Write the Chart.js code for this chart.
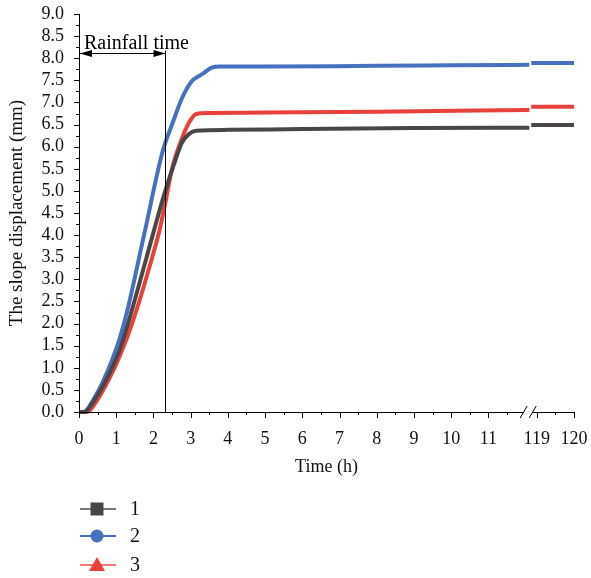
<!DOCTYPE html>
<html>
<head>
<meta charset="utf-8">
<script src="https://cdn.jsdelivr.net/npm/chart.js@4.4.0/dist/chart.umd.min.js"></script>
<style>
  html, body { margin: 0; padding: 0; background: #fff; }
  #wrap { width: 591px; height: 578px; }
</style>
</head>
<body>
<div id="wrap"><canvas id="slopeChart" width="591" height="578"></canvas></div>
<script>
// ===== DATA (time in hours, displacement in mm) =====
const seriesNames = ["1", "2", "3"];

const time1 = [0, 0.15, 0.4, 0.64, 0.9, 1.1, 1.42, 1.8, 2.3, 2.6, 2.77, 2.96, 3.15, 4, 6, 9, 12.1, 118.85, 120];
const disp1 = [0, 0, 0.25, 0.58, 1.02, 1.42, 2.3, 3.45, 4.95, 5.72, 6.1, 6.29, 6.36, 6.38, 6.4, 6.42, 6.43, 6.49, 6.49];

const time2 = [0, 0.12, 0.4, 0.64, 0.9, 1.1, 1.3, 1.76, 2.25, 2.5, 2.77, 3.04, 3.23, 3.36, 3.55, 3.8, 5, 8, 10, 12.1, 118.85, 120];
const disp2 = [0, 0, 0.3, 0.68, 1.2, 1.68, 2.3, 4.05, 5.9, 6.5, 7.1, 7.49, 7.6, 7.67, 7.78, 7.81, 7.81, 7.83, 7.84, 7.85, 7.89, 7.89];

const time3 = [0, 0.22, 0.45, 0.64, 0.9, 1.1, 1.3, 1.6, 1.9, 2.16, 2.3, 2.5, 2.75, 2.96, 3.15, 3.5, 5, 8, 12.1, 118.85, 120];
const disp3 = [0, 0, 0.22, 0.48, 0.9, 1.28, 1.7, 2.45, 3.3, 4.1, 4.65, 5.5, 6.15, 6.55, 6.74, 6.76, 6.77, 6.79, 6.83, 6.9, 6.9];

// x tick labels (hours) on the broken axis
const xTickHours = [0, 1, 2, 3, 4, 5, 6, 7, 8, 9, 10, 11, 119, 120];
const RAIN_END = 2.3;      // end of rainfall (h)
const BREAK_AT = 12.15;    // where the axis is cut (axis units)
const SHIFT = 106.7;       // hours removed by the axis break

// ===== STYLE =====
const FONT = "'Liberation Serif', 'Times New Roman', serif";
const colors = ["#4a4646", "#4670c0", "#e8413b"];
const legendLineColors = ["#7a7a7a", "#4670c0", "#f07a76"];

// map real hours onto the broken axis
function toAxis(h) { return h > 100 ? h - SHIFT : h; }

function buildData(times, disps) {
    const pts = [];
    for (let i = 0; i < times.length; i++) {
        if (times[i] > 100 && (i === 0 || times[i - 1] < 100)) {
            pts.push({ x: BREAK_AT, y: null }); // gap across the break
        }
        pts.push({ x: toAxis(times[i]), y: disps[i] });
    }
    return pts;
}

const allTimes = [time1, time2, time3];
const allDisps = [disp1, disp2, disp3];

const datasets = seriesNames.map((name, i) => ({
    label: name,
    data: buildData(allTimes[i], allDisps[i]),
    borderColor: colors[i],
    borderWidth: 4,
    pointRadius: 0,
    cubicInterpolationMode: "monotone",
    spanGaps: false,
    clip: false
}));

// ===== CUSTOM DRAWING: axes with break, ticks, rainfall marker, legend =====
const decorPlugin = {
    id: "decor",
    afterDraw(chart) {
        const c = chart.ctx;
        const xs = chart.scales.x, ys = chart.scales.y;
        const L = chart.chartArea.left, R = chart.chartArea.right;
        const T = chart.chartArea.top, B = chart.chartArea.bottom;
        c.save();
        c.strokeStyle = "#000";
        c.lineWidth = 1;

        // y axis line
        c.beginPath();
        c.moveTo(L + 0.5, T);
        c.lineTo(L + 0.5, B + 0.5);
        c.stroke();

        // x axis line with break
        const bx = xs.getPixelForValue(BREAK_AT) - 5;
        c.beginPath();
        c.moveTo(L, B + 0.5);
        c.lineTo(bx - 3, B + 0.5);
        c.moveTo(bx + 6, B + 0.5);
        c.lineTo(R, B + 0.5);
        c.stroke();
        // break slashes
        c.beginPath();
        c.moveTo(bx - 6, B + 6); c.lineTo(bx + 1, B - 6);
        c.moveTo(bx + 3, B + 6); c.lineTo(bx + 10, B - 6);
        c.stroke();

        // y ticks (outward)
        for (let v = 0; v <= 9.001; v += 0.25) {
            const y = Math.round(ys.getPixelForValue(v)) + 0.5;
            const major = Math.abs(v * 2 - Math.round(v * 2)) < 1e-6;
            c.beginPath();
            c.moveTo(L, y);
            c.lineTo(L - (major ? 5 : 3), y);
            c.stroke();
        }

        // x ticks (outward)
        const xt = [];
        xTickHours.forEach(h => xt.push([toAxis(h), true]));
        for (let h = 0.5; h < 12; h += 1) xt.push([h, false]);
        xt.push([toAxis(119.5), false]);
        xt.forEach(([v, major]) => {
            const x = Math.round(xs.getPixelForValue(v)) + 0.5;
            c.beginPath();
            c.moveTo(x, B);
            c.lineTo(x, B + (major ? 6 : 3));
            c.stroke();
        });

        // rainfall marker
        const rx = Math.round(xs.getPixelForValue(RAIN_END)) + 0.5;
        const ay = Math.round(ys.getPixelForValue(8.12)) + 0.5;
        c.beginPath();
        c.moveTo(rx, ay - 3);
        c.lineTo(rx, B);
        c.moveTo(L, ay);
        c.lineTo(rx, ay);
        c.stroke();
        c.fillStyle = "#000";
        c.beginPath();
        c.moveTo(L + 1, ay); c.lineTo(L + 13, ay - 3.5); c.lineTo(L + 13, ay + 3.5); c.closePath();
        c.moveTo(rx, ay); c.lineTo(rx - 12, ay - 3.5); c.lineTo(rx - 12, ay + 3.5); c.closePath();
        c.fill();
        c.font = "20px " + FONT;
        c.textAlign = "left";
        c.textBaseline = "alphabetic";
        c.fillText("Rainfall time", L + 5, ay - 5);

        // legend
        const legY = [509, 536, 565];
        seriesNames.forEach((name, i) => {
            const y = legY[i];
            c.strokeStyle = legendLineColors[i];
            c.lineWidth = 2;
            c.beginPath();
            c.moveTo(80, y); c.lineTo(116, y);
            c.stroke();
            c.fillStyle = colors[i];
            c.beginPath();
            if (i === 0) {
                c.rect(90.5, y - 6.5, 13, 13);
            } else if (i === 1) {
                c.arc(97, y, 6.5, 0, Math.PI * 2);
            } else {
                c.moveTo(97, y - 8); c.lineTo(105, y + 6); c.lineTo(89, y + 6); c.closePath();
            }
            c.fill();
            c.fillStyle = "#111";
            c.font = "20px " + FONT;
            c.textBaseline = "middle";
            c.fillText(name, 130, y + 1);
        });
        c.restore();
    }
};

const ctx = document.getElementById("slopeChart").getContext("2d");
const slopeChart = new Chart(ctx, {
    type: "line",
    data: { datasets: datasets },
    options: {
        responsive: false,
        animation: false,
        layout: { padding: { left: 0, top: 14, right: 17, bottom: 98 } },
        scales: {
            x: {
                type: "linear",
                min: 0,
                max: toAxis(120),
                afterBuildTicks: s => { s.ticks = xTickHours.map(h => ({ value: toAxis(h) })); },
                afterFit: s => { s.height = 68; s.paddingLeft = 0; s.paddingRight = 0; },
                grid: { display: false },
                border: { display: false },
                ticks: {
                    autoSkip: false,
                    maxRotation: 0,
                    padding: 8,
                    color: "#111",
                    font: { family: FONT, size: 18 },
                    callback: v => (v > 12 ? String(Math.round(v + SHIFT)) : String(Math.round(v)))
                },
                title: {
                    display: true,
                    text: "Time (h)",
                    color: "#111",
                    font: { family: FONT, size: 18 },
                    padding: { top: 2, bottom: 2 }
                }
            },
            y: {
                min: 0,
                max: 9,
                afterBuildTicks: s => {
                    const t = [];
                    for (let i = 0; i <= 18; i++) t.push({ value: i * 0.5 });
                    s.ticks = t;
                },
                afterFit: s => { s.width = 79; s.paddingTop = 0; s.paddingBottom = 0; },
                grid: { display: false },
                border: { display: false },
                ticks: {
                    autoSkip: false,
                    padding: 7,
                    color: "#111",
                    font: { family: FONT, size: 18 },
                    callback: v => v.toFixed(1)
                },
                title: {
                    display: true,
                    text: "The slope displacement (mm)",
                    color: "#111",
                    font: { family: FONT, size: 19 },
                    padding: { top: 6, bottom: 0 }
                }
            }
        },
        plugins: {
            legend: { display: false },
            tooltip: { enabled: false }
        }
    },
    plugins: [decorPlugin]
});
</script>
</body>
</html>
